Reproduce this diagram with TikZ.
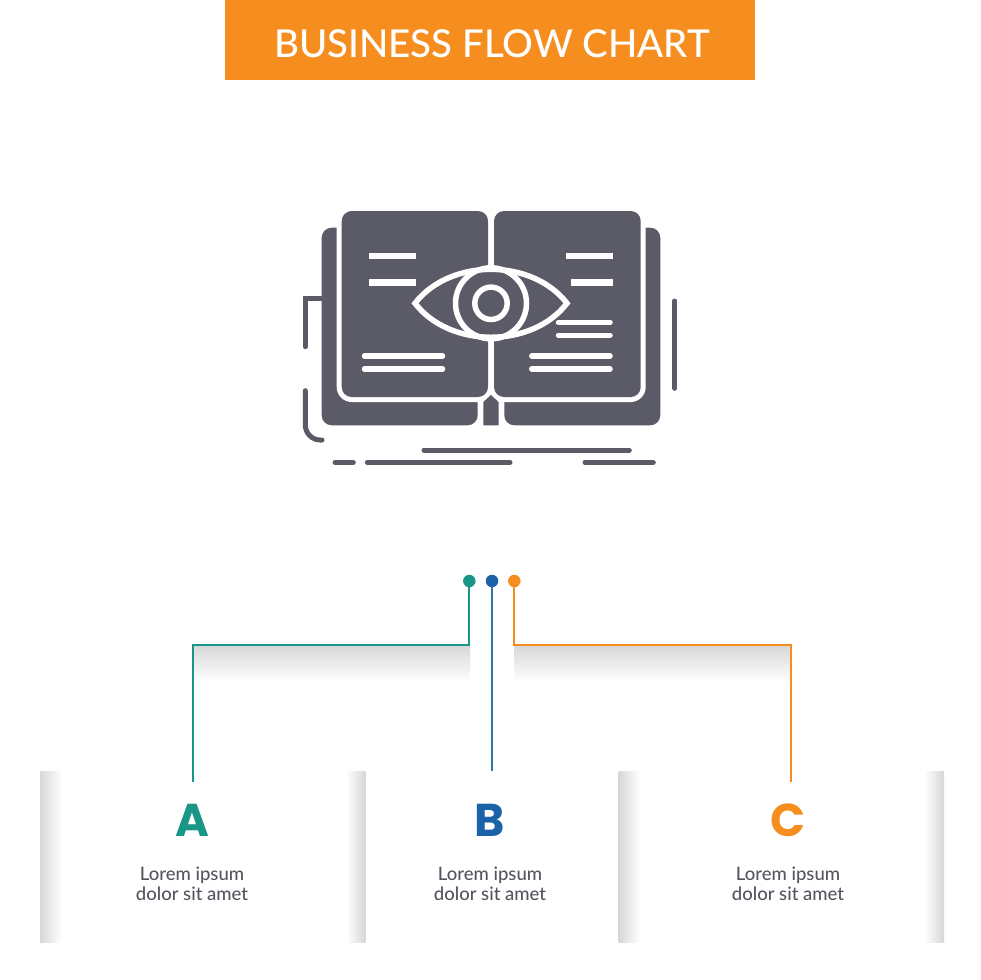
\documentclass[tikz,border=0pt]{standalone}
\usepackage{fontspec}
\setmainfont{Lato Medium}
\newfontfamily\headfont{Poppins}
\usetikzlibrary{positioning}
\definecolor{barorange}{HTML}{F68D1F}
\definecolor{tealA}{HTML}{1A9688}
\definecolor{blueB}{HTML}{1B62A8}
\definecolor{lineB}{HTML}{2F78A2}
\definecolor{slate}{HTML}{5B5A67}
\definecolor{bodytext}{HTML}{56555F}
\definecolor{fadegray}{HTML}{D6D7D7}
\definecolor{fademid}{HTML}{F1F1F1}

\begin{document}
\begin{tikzpicture}[x = 1pt, y = -1pt, dot/.style = {circle, inner sep = 0pt, minimum size = 12.5pt}, wire/.style = {line width = 1.7pt}, letter/.style = {font = \headfont\bfseries\fontsize{46}{46}\selectfont, inner sep = 0pt, text height = 33pt, text depth = 0pt}, blurb/.style = {font = \fontsize{18.5}{20.5}\selectfont, text = bodytext, align = center, inner sep = 0pt}, ink/.style = {slate, line width = 5pt, line cap = round}, cut/.style = {white, line width = 5.5pt, line cap = round}, cutbar/.style = {fill = white}, bookpart/.style = {fill = slate, rounded corners = 10pt}, fadedown/.style = {top color = fadegray, middle color = fademid, bottom color = white}, faderight/.style = {left color = fadegray, middle color = fademid, right color = white}, fadeleft/.style = {left color = white, middle color = fademid, right color = fadegray}]
\useasboundingbox (0,0) rectangle (980,980);

\fill[barorange] (225,0) rectangle (755,80);
\node[text = white, font = \fontsize{38.4}{38.4}\selectfont, inner sep = 0pt] (title) at (492,43.5) {BUSINESS FLOW CHART};

\fill[bookpart] (321.7,227.7) rectangle (477.7,425.3);
\fill[bookpart] (504.3,227.7) rectangle (660.3,425.3);
\fill[white, rounded corners = 15pt] (336.7,206) rectangle (493,402);
\fill[white, rounded corners = 15pt] (489,206) rectangle (645.7,402);
\fill[slate] (483.3,425.3) -- (483.3,402) -- (491,395) -- (498.5,402) -- (498.5,425.3) -- cycle;
\fill[bookpart] (341.7,211) rectangle (488,397);
\fill[bookpart] (494,211) rectangle (640.7,397);

\fill[cutbar] (369,253.3) rectangle (416,259.3);
\fill[cutbar] (369,279.3) rectangle (416,285.7);
\fill[cutbar] (566,253.3) rectangle (613.3,259.3);
\fill[cutbar] (571,279.3) rectangle (613.3,285.7);
\draw[cut] (364.5,356) -- (442.5,356);
\draw[cut] (364.5,369) -- (442.5,369);
\draw[cut] (531.8,356) -- (610,356);
\draw[cut] (531.8,369) -- (610,369);
\draw[cut] (558.5,322.3) -- (610,322.3);
\draw[cut] (558.5,335.3) -- (610,335.3);

\draw[white, line width = 5.5pt, fill = slate, line join = miter] (415,303.3) .. controls (450,258) and (532,258) .. (567,303.3) .. controls (532,348.6) and (450,348.6) .. (415,303.3) -- cycle;
\draw[white, line width = 5.5pt] (491,303.3) circle (35.5);
\draw[white, line width = 5.5pt] (491,303.3) circle (16.2);

\draw[ink] (305.3,346.7) -- (305.3,298.3) -- (321,298.3);
\draw[ink] (674.7,301) -- (674.7,388.3);
\draw[ink, rounded corners = 15pt] (305.3,390.7) -- (305.3,440) -- (322,440);
\draw[ink] (424,450) -- (629.3,450);
\draw[ink] (335,462.3) -- (353.3,462.3);
\draw[ink] (367.3,462.3) -- (510,462.3);
\draw[ink] (585,462.3) -- (653.3,462.3);

\shade[fadedown] (193,645) rectangle (470,682);
\shade[fadedown] (514,645) rectangle (791,682);
\shade[faderight] (40,771.5) rectangle (62,942);
\shade[fadeleft] (346,771.5) rectangle (365.5,942);
\shade[faderight] (618.5,771.5) rectangle (640,942);
\shade[fadeleft] (924,771.5) rectangle (944,942);

\node[dot, fill = tealA] (dotA) at (469.3,581) {};
\node[dot, fill = blueB] (dotB) at (492,581) {};
\node[dot, fill = barorange] (dotC) at (514.3,581) {};
\coordinate (elbowA) at (469.3,645);
\coordinate (cornerA) at (192.7,645);
\coordinate (endA) at (192.7,781.5);
\coordinate (endB) at (492,771);
\coordinate (elbowC) at (514.3,645);
\coordinate (cornerC) at (791,645);
\coordinate (endC) at (791,781.5);
\draw[wire, tealA] (dotA) -- (elbowA) -- (cornerA) -- (endA);
\draw[wire, lineB] (dotB) -- (endB);
\draw[wire, barorange] (dotC) -- (elbowC) -- (cornerC) -- (endC);

\node[letter, text = tealA] (A) at (192,820) {A};
\node[letter, text = blueB] (B) at (490,820) {B};
\node[letter, text = barorange] (C) at (788,820) {C};
\node[blurb, below = 30pt of A.south] (textA) {Lorem ipsum\\dolor sit amet};
\node[blurb, below = 30pt of B.south] (textB) {Lorem ipsum\\dolor sit amet};
\node[blurb, below = 30pt of C.south] (textC) {Lorem ipsum\\dolor sit amet};
\end{tikzpicture}
\end{document}
